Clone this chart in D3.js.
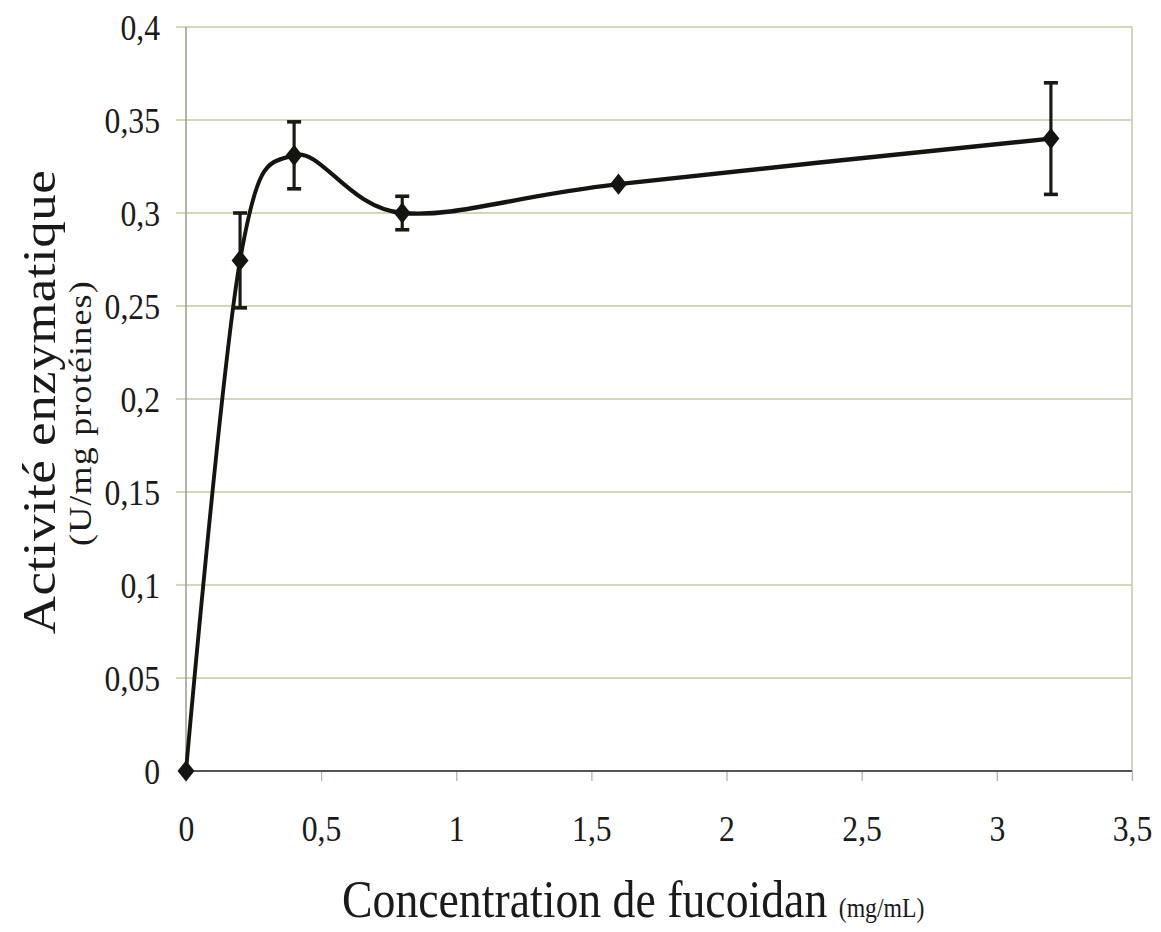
<!DOCTYPE html>
<html>
<head>
<meta charset="utf-8">
<script src="https://cdn.jsdelivr.net/npm/d3@7"></script>
<style>
  html, body { margin: 0; padding: 0; background: #fff; }
  svg { display: block; }
  text { font-family: "Liberation Serif", "DejaVu Serif", serif; fill: #1a1a1a; }
</style>
</head>
<body>
<div id="chart"></div>
<script>
// data
const concentrations = [0, 0.2, 0.4, 0.8, 1.6, 3.2];
const activity = [0, 0.2745, 0.331, 0.300, 0.3155, 0.340];
const errors = [0, 0.0255, 0.018, 0.009, 0, 0.030];

const xTicks = [0, 0.5, 1, 1.5, 2, 2.5, 3, 3.5];
const xTickLabels = ["0", "0,5", "1", "1,5", "2", "2,5", "3", "3,5"];
const yTicks = [0, 0.05, 0.1, 0.15, 0.2, 0.25, 0.3, 0.35, 0.4];
const yTickLabels = ["0", "0,05", "0,1", "0,15", "0,2", "0,25", "0,3", "0,35", "0,4"];

const width = 1161, height = 932;
// the scan is a little squeezed horizontally, so draw in a stretched space
const SX = 0.88;
const margin = { top: 27, right: 29, bottom: 161, left: 186 };

const svg = d3.select('#chart').append('svg')
    .attr('width', width)
    .attr('height', height);

const g = svg.append('g')
    .attr('transform', 'scale(' + SX + ',1)');

const x = d3.scaleLinear().domain([0, 3.5])
    .range([margin.left / SX, (width - margin.right) / SX]);
const y = d3.scaleLinear().domain([0, 0.4])
    .range([height - margin.bottom, margin.top]);

const data = concentrations.map((c, i) => ({ c: c, v: activity[i], e: errors[i] }));

// horizontal gridlines + little ticks on the left
g.append('g')
    .selectAll('line')
    .data(yTicks.filter(d => d > 0))
    .enter()
    .append('line')
    .attr('x1', x(0) - 10 / SX)
    .attr('x2', x(3.5))
    .attr('y1', d => y(d))
    .attr('y2', d => y(d))
    .attr('stroke', '#c6c8a6')
    .attr('stroke-width', 1.3);

// right border
g.append('line')
    .attr('x1', x(3.5)).attr('x2', x(3.5))
    .attr('y1', y(0.4)).attr('y2', y(0))
    .attr('stroke', '#c6c8a6')
    .attr('stroke-width', 1.5 / SX);

// y axis
const yAxis = g.append('g')
    .attr('transform', 'translate(' + x(0) + ',0)')
    .call(d3.axisLeft(y).tickValues(yTicks)
        .tickFormat((d, i) => yTickLabels[i])
        .tickSize(0));
yAxis.select('.domain').remove();
yAxis.selectAll('text')
    .attr('x', -26 / SX)
    .attr('dy', '0.34em')
    .style('font-size', '36px')
    .style('font-family', '"Liberation Serif", serif');

g.append('line')
    .attr('x1', x(0)).attr('x2', x(0))
    .attr('y1', y(0.4)).attr('y2', y(0))
    .attr('stroke', '#9c9c88')
    .attr('stroke-width', 1.5 / SX);

// x axis
const xAxis = g.append('g')
    .attr('transform', 'translate(0,' + y(0) + ')')
    .call(d3.axisBottom(x).tickValues(xTicks)
        .tickFormat((d, i) => xTickLabels[i])
        .tickSize(10));
xAxis.select('.domain').remove();
xAxis.selectAll('.tick line')
    .attr('stroke', '#b4b4a4')
    .attr('stroke-width', 1.3 / SX);
xAxis.selectAll('text')
    .attr('y', 70)
    .attr('dy', 0)
    .style('font-size', '36px')
    .style('font-family', '"Liberation Serif", serif');

g.append('line')
    .attr('x1', x(0) - 4).attr('x2', x(3.5))
    .attr('y1', y(0)).attr('y2', y(0))
    .attr('stroke', '#55554a')
    .attr('stroke-width', 2);

// smoothed line (excel style)
const line = d3.line()
    .x(d => x(d.c))
    .y(d => y(d.v))
    .curve(d3.curveCardinal.tension(0));

g.append('path')
    .datum(data)
    .attr('fill', 'none')
    .attr('stroke', '#141410')
    .attr('stroke-width', 4.4)
    .attr('d', line);

// error bars
const eb = g.append('g')
    .selectAll('g')
    .data(data.filter(d => d.e > 0))
    .enter()
    .append('g')
    .attr('stroke', '#1a1a14')
    .attr('stroke-width', 3.6);

eb.append('line')
    .attr('x1', d => x(d.c)).attr('x2', d => x(d.c))
    .attr('y1', d => y(d.v + d.e)).attr('y2', d => y(d.v - d.e));
eb.append('line')
    .attr('x1', d => x(d.c) - 7 / SX).attr('x2', d => x(d.c) + 7 / SX)
    .attr('y1', d => y(d.v + d.e)).attr('y2', d => y(d.v + d.e));
eb.append('line')
    .attr('x1', d => x(d.c) - 7 / SX).attr('x2', d => x(d.c) + 7 / SX)
    .attr('y1', d => y(d.v - d.e)).attr('y2', d => y(d.v - d.e));

// diamond markers
g.append('g')
    .selectAll('path')
    .data(data)
    .enter()
    .append('path')
    .attr('d', d3.symbol().type(d3.symbolSquare).size(185))
    .attr('transform', d => 'translate(' + x(d.c) + ',' + y(d.v) + ') scale(1,1.1) rotate(45)')
    .attr('fill', '#141410');

// y title
g.append('text')
    .attr('transform', 'translate(' + (55 / SX) + ',' + 402 + ') rotate(-90)')
    .attr('text-anchor', 'middle')
    .style('font-size', '53px')
    .style('letter-spacing', '0.5px')
    .text('Activité enzymatique');

g.append('text')
    .attr('transform', 'translate(' + (91 / SX) + ',' + 413 + ') rotate(-90)')
    .attr('text-anchor', 'middle')
    .style('font-size', '36px')
    .style('letter-spacing', '1.2px')
    .text('(U/mg protéines)');

// x title
const xt = g.append('text')
    .attr('x', 342 / SX)
    .attr('y', 917)
    .style('font-size', '52px');
xt.append('tspan').text('Concentration de fucoidan ');
xt.append('tspan').style('font-size', '27px').text('(mg/mL)');
</script>
</body>
</html>
